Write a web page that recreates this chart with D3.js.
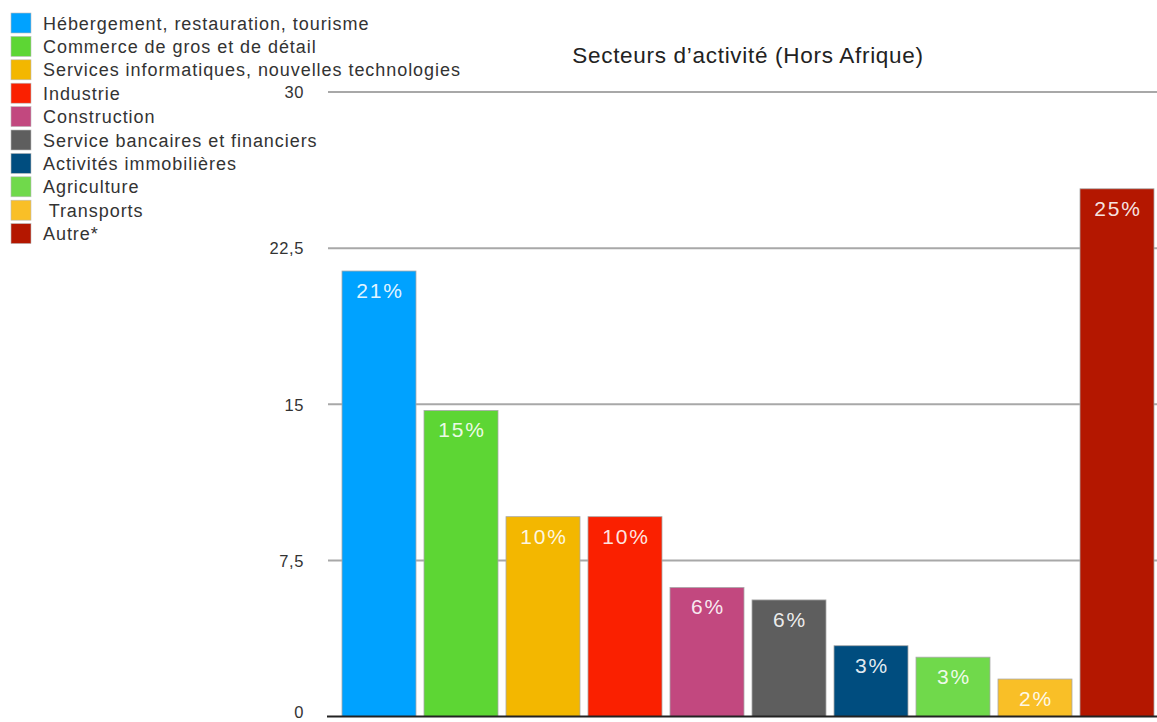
<!DOCTYPE html>
<html><head><meta charset="utf-8">
<script src="https://cdn.jsdelivr.net/npm/d3@7"></script>
<style>
html,body{margin:0;padding:0;background:#fff;overflow:hidden}
text{font-family:Helvetica,Arial,"Liberation Sans",sans-serif}
</style></head>
<body>
<svg id="c" width="1157" height="722"></svg>
<script>
const categories = ["Hébergement, restauration, tourisme","Commerce de gros et de détail","Services informatiques, nouvelles technologies","Industrie","Construction","Service bancaires et financiers","Activités immobilières","Agriculture"," Transports","Autre*"];
const values = [21.4, 14.7, 9.6, 9.6, 6.2, 5.6, 3.4, 2.85, 1.8, 25.35];
const labels = ["21%","15%","10%","10%","6%","6%","3%","3%","2%","25%"];
const colors = ["#00a2ff","#5dd634","#f3b700","#fa2000","#c2487f","#5e5e5e","#004d7f","#70d94b","#f9bf27","#b41700"];
const ticks = [0, 7.5, 15, 22.5, 30];
const tickLabels = ["0","7,5","15","22,5","30"];
const title = "Secteurs d\u2019activité (Hors Afrique)";

const svg = d3.select("#c");
const y = d3.scaleLinear().domain([0,30]).range([716.5, 92]);
const x = d3.scaleBand().domain(categories).range([338, 1158]).paddingInner(0.0976).paddingOuter(0.0488);

// y axis labels
const axis = d3.axisLeft(y).tickValues(ticks).tickFormat((d,i)=>tickLabels[i]).tickSize(0).tickPadding(0);
const ga = svg.append("g").attr("transform","translate(304,0)").call(axis);
ga.select(".domain").remove();
ga.selectAll("text").attr("font-size",16.5).attr("fill","#333").attr("letter-spacing",0.6)
  .attr("dy",d=>d===0 ? "0.05em" : "0.35em");

// gridlines
svg.append("g").selectAll("line").data(ticks.filter(d=>d>0)).join("line")
  .attr("x1",328).attr("x2",1157).attr("y1",d=>y(d)).attr("y2",d=>y(d))
  .attr("stroke","#a8a8a8").attr("stroke-width",2);

// bars
svg.append("g").selectAll("rect").data(categories).join("rect")
  .attr("x",d=>x(d)).attr("width",x.bandwidth())
  .attr("y",(d,i)=>y(values[i])).attr("height",(d,i)=>y(0)-y(values[i]))
  .attr("fill",(d,i)=>colors[i]).attr("stroke","#a9a9a9").attr("stroke-width",0.8);

svg.append("g").selectAll("text").data(categories).join("text")
  .attr("x",d=>x(d)+x.bandwidth()/2+1).attr("y",(d,i)=>y(values[i])+27)
  .attr("text-anchor","middle").attr("font-size",21).attr("letter-spacing",1.8)
  .attr("fill","#fff").attr("fill-opacity",0.9)
  .text((d,i)=>labels[i]);

// baseline
svg.append("line").attr("x1",327).attr("x2",1157).attr("y1",y(0)).attr("y2",y(0))
  .attr("stroke","#222").attr("stroke-width",2);

// title
svg.append("text").attr("x",748).attr("y",63).attr("text-anchor","middle")
  .attr("font-size",22.5).attr("letter-spacing",0.7).attr("fill","#222").text(title);

// legend
const lg = svg.append("g");
const rows = lg.selectAll("g").data(categories).join("g")
  .attr("transform",(d,i)=>`translate(11,${13 + i*23.4})`);
rows.append("rect").attr("width",20).attr("height",20).attr("fill",(d,i)=>colors[i])
  .attr("stroke","#bbb").attr("stroke-width",0.6);
rows.append("text").attr("x",32).attr("y",16.5).attr("font-size",18).attr("letter-spacing",0.95).attr("fill","#333")
  .attr("xml:space","preserve").style("white-space","pre").text(d=>d);
</script>
</body></html>
